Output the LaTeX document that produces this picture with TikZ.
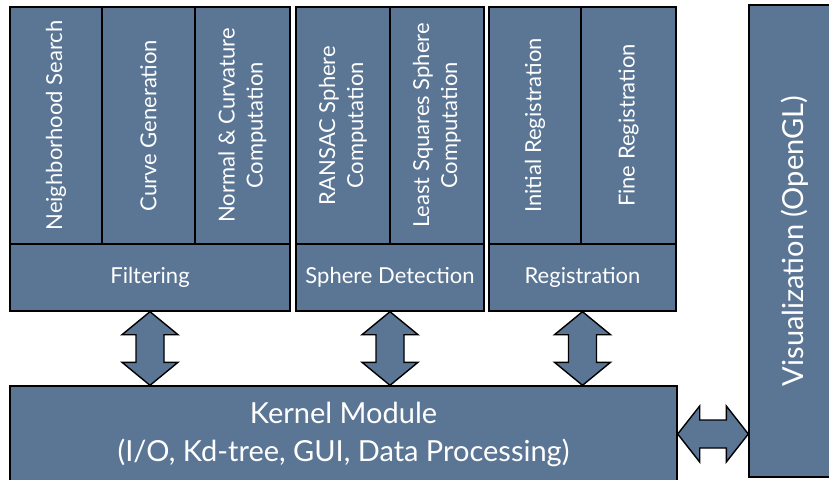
\documentclass[tikz,border=0pt]{standalone}
\usepackage{fontspec}
\setmainfont{Lato}
\usetikzlibrary{calc}
\definecolor{Slate}{HTML}{5B7695}

\tikzset{
  block/.style={draw=black, line width=1.4pt, fill=Slate, text=white, inner sep=0pt,
    align=center, font=\fontsize{22}{28}\selectfont},
  task/.style={block, rotate=90},
  bigtext/.style={font=\fontsize{29}{38}\selectfont},
  link/.style={draw=black, line width=1.4pt, fill=Slate, line join=miter},
}

% double-headed block arrow, upper point down to lower point
\newcommand{\vlink}[2]{%
  \path[link] let \p1=(#1), \p2=(#2) in
    (\x1,\y1) -- ++(28pt,-23pt) -- ++(-14pt,0pt) -- ({\x1+14pt},{\y2+23pt})
    -- ++(14pt,0pt) -- (\x1,\y2) -- ++(-28pt,23pt) -- ++(14pt,0pt)
    -- ({\x1-14pt},{\y1-23pt}) -- ++(-14pt,0pt) -- cycle;}
% same thing sideways, left point to right point
\newcommand{\hlink}[2]{%
  \path[link] let \p1=(#1), \p2=(#2) in
    (\x1,\y1) -- ++(22pt,28pt) -- ++(0pt,-14pt) -- ({\x2-22pt},{\y1+14pt})
    -- ++(0pt,14pt) -- (\x2,\y1) -- ++(-22pt,-28pt) -- ++(0pt,14pt)
    -- ({\x1+22pt},{\y1-14pt}) -- ++(0pt,-14pt) -- cycle;}

\begin{document}
\begin{tikzpicture}[x=1pt,y=-1pt]
  \clip (0,0) rectangle (829,479);
  \fill[white] (0,0) rectangle (829,479);

  % filtering
  \node[task, minimum width=237pt, minimum height=92pt] (nbr) at (56,125.5) {Neighborhood Search};
  \node[task, minimum width=237pt, minimum height=93pt] (crv) at (148.5,125.5) {Curve Generation};
  \node[task, minimum width=237pt, minimum height=95pt] (nrm) at (242.5,125.5) {Normal \& Curvature\\Computation};
  \node[block, minimum width=280pt, minimum height=67pt] (filt) at (150,277.5) {Filtering};

  % sphere detection
  \node[task, minimum width=237pt, minimum height=94pt] (rns) at (343,125.5) {RANSAC Sphere\\Computation};
  \node[task, minimum width=237pt, minimum height=94pt] (lsq) at (437,125.5) {Least Squares Sphere\\Computation};
  \node[block, minimum width=188pt, minimum height=67pt] (sph) at (390,277.5) {Sphere Detection};

  % registration
  \node[task, minimum width=237pt, minimum height=92pt] (ini) at (535,125.5) {Initial Registration};
  \node[task, minimum width=237pt, minimum height=95pt] (fin) at (628.5,125.5) {Fine Registration};
  \node[block, minimum width=187pt, minimum height=67pt] (reg) at (582.5,277.5) {Registration};

  % kernel and viewer (vis is turned, so its north side faces left)
  \node[block, bigtext, minimum width=667pt, minimum height=96pt] (kern) at (343.5,434)
    {Kernel Module\\(I/O, Kd-tree, GUI, Data Processing)};
  \node[task, bigtext, minimum width=472pt, minimum height=91pt] (vis) at (794.5,241)
    {Visualization (OpenGL)};

  \vlink{filt.south}{kern.north -| filt.south}
  \vlink{sph.south}{kern.north -| sph.south}
  \vlink{reg.south}{kern.north -| reg.south}
  \hlink{kern.east}{vis.north |- kern.east}
\end{tikzpicture}
\end{document}
